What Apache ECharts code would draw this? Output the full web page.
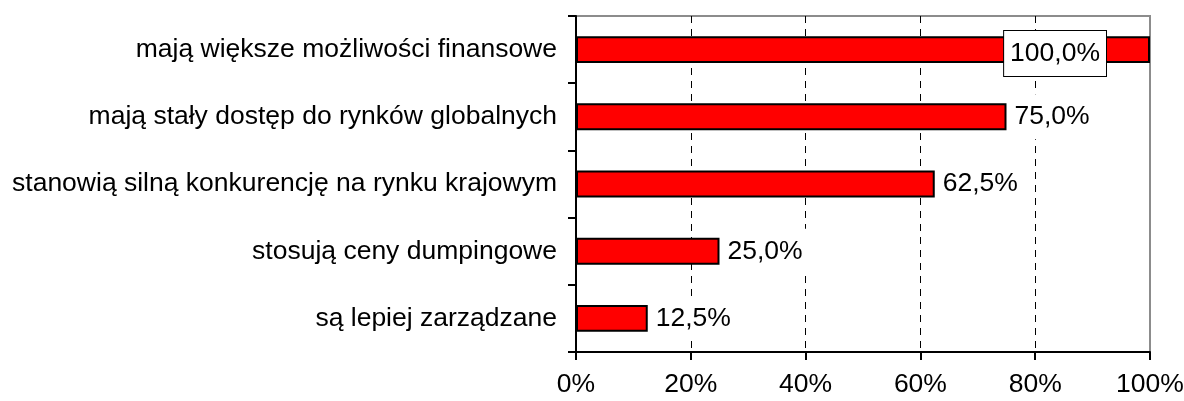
<!DOCTYPE html>
<html>
<head>
<meta charset="utf-8">
<script src="https://cdn.jsdelivr.net/npm/echarts@6/dist/echarts.min.js"></script>
<style>
  html, body { margin: 0; padding: 0; background: #fff; }
  #chart { width: 1184px; height: 401px; }
</style>
</head>
<body>
<div id="chart"></div>
<script>
// dane z wykresu
var categories = [
  'mają większe możliwości finansowe',
  'mają stały dostęp do rynków globalnych',
  'stanowią silną konkurencję na rynku krajowym',
  'stosują ceny dumpingowe',
  'są lepiej zarządzane'
];
var values = [100.0, 75.0, 62.5, 25.0, 12.5];
var xTicks = [0, 20, 40, 60, 80, 100];

var font = 'Liberation Sans, Arial, sans-serif';
var fs = 26.5;
var chart = echarts.init(document.getElementById('chart'));

function fmt(v) {
  return v.toFixed(1).replace('.', ',') + '%';
}

var barData = values.map(function (v) {
  if (v >= 100) {
    // etykieta w ramce, bo nie mieści się za słupkiem
    return {
      value: v,
      label: {
        position: 'insideRight',
        distance: 44,
        offset: [0, 4],
        borderColor: '#000',
        borderWidth: 1
      }
    };
  }
  return v;
});

var option = {
  animation: false,
  grid: {
    left: 576, right: 34, top: 16, bottom: 49,
    outerBoundsMode: 'none',
    show: true,
    borderColor: '#8c8c8c',
    borderWidth: 2
  },
  xAxis: {
    type: 'value',
    min: xTicks[0],
    max: xTicks[xTicks.length - 1],
    interval: 20,
    axisLine: { show: true, lineStyle: { color: '#000', width: 2 } },
    axisTick: { show: true, length: 8, lineStyle: { color: '#000', width: 2 } },
    axisLabel: {
      color: '#000', fontFamily: font, fontSize: fs, margin: 19,
      formatter: function (v) { return v + '%'; }
    },
    splitLine: {
      show: true,
      showMinLine: false,
      showMaxLine: false,
      lineStyle: { color: '#000', type: [7, 6], width: 1 }
    }
  },
  yAxis: {
    type: 'category',
    inverse: true,
    data: categories,
    axisLine: { show: true, lineStyle: { color: '#000', width: 2 } },
    axisTick: { show: true, length: 8, lineStyle: { color: '#000', width: 2 } },
    axisLabel: { color: '#000', fontFamily: font, fontSize: fs, margin: 19 }
  },
  series: [{
    type: 'bar',
    data: barData,
    barWidth: '40%',
    itemStyle: { color: '#ff0000', borderColor: '#000', borderWidth: 2 },
    label: {
      show: true,
      position: 'right',
      distance: 2,
      color: '#000',
      fontFamily: font,
      fontSize: fs,
      backgroundColor: '#fff',
      padding: [9, 6, 9, 6],
      formatter: function (p) { return fmt(p.value); }
    }
  }]
};

chart.setOption(option);
</script>
</body>
</html>
